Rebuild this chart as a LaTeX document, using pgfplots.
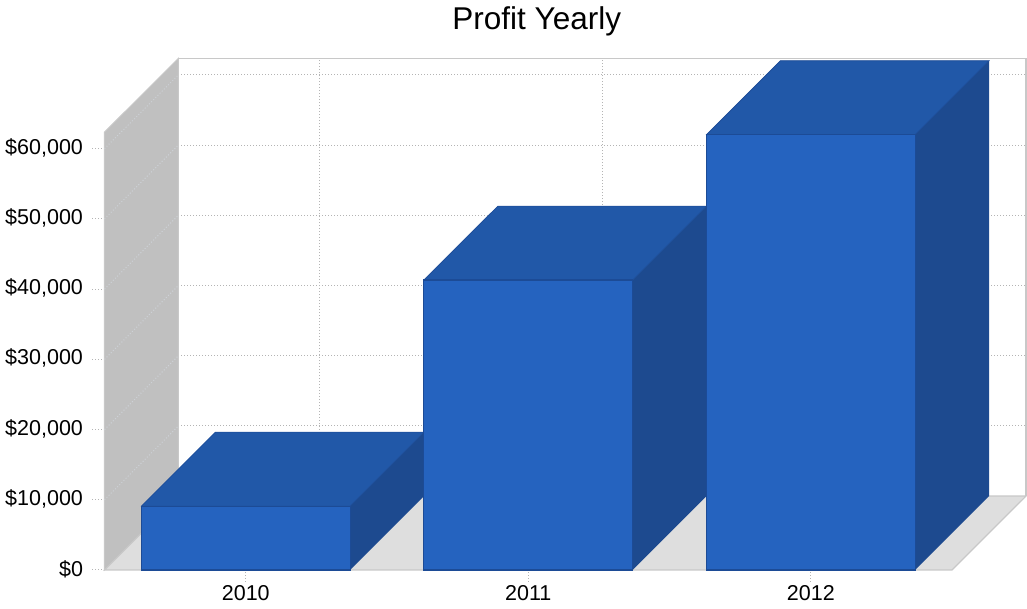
\documentclass[border=0pt]{standalone}
\usepackage{pgfplots}
\pgfplotsset{compat=1.18}
\usepackage{pgfplotstable}
\usepackage{fontspec}
\setmainfont{Liberation Sans}

\definecolor{barfront}{HTML}{2563BF}
\definecolor{bartop}{HTML}{2158A8}
\definecolor{barside}{HTML}{1D4A8F}
\definecolor{baredge}{HTML}{1C4B96}
\definecolor{wallgray}{HTML}{C0C0C0}
\definecolor{floorgray}{HTML}{DEDEDE}
\definecolor{framegray}{HTML}{C8C8C8}
\definecolor{gridgray}{HTML}{B4B4B4}
\definecolor{wallgrid}{HTML}{CDD1D6}

\pgfplotstableread{
x year profit
0 2010 9100
1 2011 41300
2 2012 62000
}\profittable

% 3D depth in axis units (x: categories, y: dollars) and half bar width
\def\dx{0.2617}
\def\dy{10526}
\def\hw{0.3695}

\begin{document}
\begin{tikzpicture}
\begin{axis}[
  scale only axis, width=921.5pt, height=511.7pt,
  xmin=-0.5, xmax=2.7617, ymin=0, ymax=72876,
  enlargelimits=false, clip=false,
  axis line style={draw=none},
  xtick={0,1,2}, xticklabels={2010,2011,2012},
  ytick={0,10000,20000,30000,40000,50000,60000},
  yticklabels={{\$0},{\$10,000},{\$20,000},{\$30,000},{\$40,000},{\$50,000},{\$60,000}},
  scaled y ticks=false,
  xtick pos=bottom, ytick pos=left,
  tick align=outside,
  major tick length=12pt,
  tick style={draw=gridgray, line width=1pt, dotted},
  tick label style={font=\fontsize{21.5}{25}\selectfont, text=black},
  yticklabel style={xshift=-6pt, yshift=1pt},
]
% back wall grid
\pgfplotsinvokeforeach{20526,30526,40526,50526,60526,70526}{
  \addplot[gridgray, dotted, line width=1pt] coordinates {(-0.2383,#1) (2.7617,#1)};
}
\pgfplotsinvokeforeach{0.2617,1.2617}{
  \addplot[gridgray, dotted, line width=1pt] coordinates {(#1,10526) (#1,72876)};
}
\addplot[framegray, line width=1.5pt] coordinates {(-0.2383,72876) (2.7617,72876) (2.7617,10526)};
% left wall
\addplot[fill=wallgray, draw=framegray, line width=1pt]
  coordinates {(-0.5,0) (-0.5,62350) (-0.2383,72876) (-0.2383,10526)} -- cycle;
\pgfplotsinvokeforeach{10000,20000,30000,40000,50000,60000}{
  \edef\tmp{\noexpand\addplot[wallgrid, dotted, line width=1pt]
    coordinates {(-0.5,#1) (-0.2383,\the\numexpr#1+\dy\relax)};}\tmp
}
% floor
\addplot[fill=floorgray, draw=framegray, line width=1.2pt]
  coordinates {(-0.5,0) (2.5,0) (2.7617,10526) (-0.2383,10526)} -- cycle;
% bars
\pgfplotsinvokeforeach{0,1,2}{
  \pgfplotstablegetelem{#1}{profit}\of\profittable
  \edef\v{\pgfplotsretval}
  \edef\vb{\the\numexpr\pgfplotsretval+\dy\relax}
  \pgfmathsetmacro\xl{#1-\hw}
  \pgfmathsetmacro\xr{#1+\hw}
  \pgfmathsetmacro\xlb{#1-\hw+\dx}
  \pgfmathsetmacro\xrb{#1+\hw+\dx}
  \edef\drawbar{%
    \noexpand\addplot[fill=barside, draw=none]
      coordinates {(\xr,0) (\xrb,\dy) (\xrb,\vb) (\xr,\v)} -- cycle;
    \noexpand\addplot[fill=bartop, draw=baredge, line width=0.6pt]
      coordinates {(\xl,\v) (\xlb,\vb) (\xrb,\vb) (\xr,\v)} -- cycle;
    \noexpand\addplot[fill=barfront, draw=baredge, line width=1.2pt]
      coordinates {(\xl,0) (\xl,\v) (\xr,\v) (\xr,0)} -- cycle;
  }\drawbar
}
\end{axis}
\node[anchor=base, font=\fontsize{31.5}{36}\selectfont] at (432.2pt,540pt) {Profit Yearly};
\pgfresetboundingbox
\path[use as bounding box] (-104.5pt,-39pt) rectangle (922.5pt,570pt);
\end{tikzpicture}
\end{document}
